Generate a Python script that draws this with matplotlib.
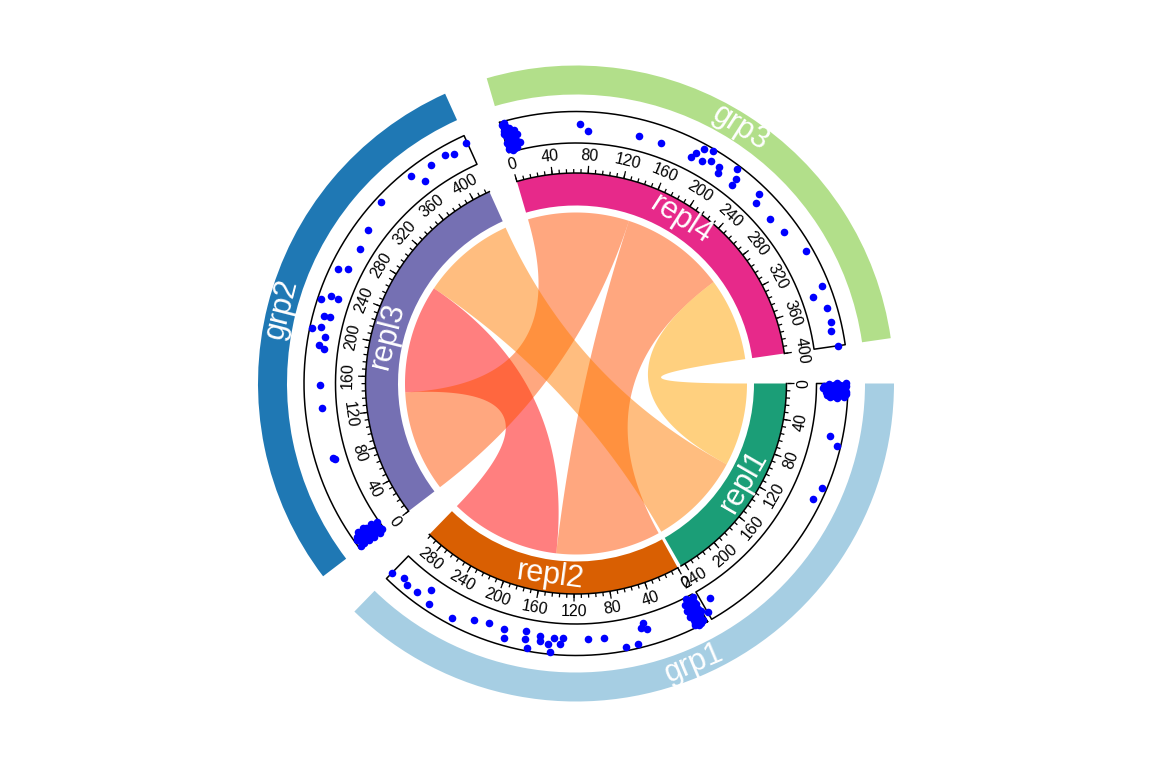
import numpy as np
import matplotlib.pyplot as plt

plt.rcParams['font.family'] = ['Liberation Sans', 'DejaVu Sans']

# ---- sectors / groups ----
sector_names = ['repl1', 'repl2', 'repl3', 'repl4']
sector_sizes = [245, 298, 420, 400]
sector_colors = ['#1B9E77', '#D95F02', '#7570B3', '#E7298A']
gaps_after = [1.0, 8.5, 8.0, 8.2]   # degrees after each sector

group_names = ['grp1', 'grp2', 'grp3']
group_sectors = [['repl1', 'repl2'], ['repl3'], ['repl4']]
group_colors = ['#A6CEE3', '#1F78B4', '#B2DF8A']

# ---- links ----
link_sec1 = ['repl3', 'repl3', 'repl4', 'repl3', 'repl4']
link_range1 = [(140, 290), (0, 140), (140, 285), (290, 420), (285, 400)]
link_sec2 = ['repl2', 'repl4', 'repl2', 'repl1', 'repl1']
link_range2 = [(145, 298), (0, 140), (0, 145), (115, 245), (0, 115)]
link_colors = ['#FF0000', '#FF5000', '#FF5000', '#FF7D00', '#FFA300']

# ---- scatter track (position, relative value 0..1) ----
repl1_pos = [0, 1, 2, 3, 4, 5, 6, 7, 8, 9, 10, 11, 12, 13, 2, 5, 8, 11, 1, 6,
             0.5, 3.5, 6.5, 9.5, 12.5, 2.5, 7.5, 10.5, 4.5, 0,
             48, 55, 94, 106, 237, 245]
repl1_val = [0.95, 0.55, 0.8, 0.35, 0.7, 0.9, 0.45, 0.6, 0.85, 0.4, 0.75, 0.55, 0.9, 0.65,
             0.25, 0.3, 0.3, 0.35, 0.75, 0.75,
             0.4, 0.5, 0.65, 0.95, 0.45, 0.95, 0.95, 0.8, 0.2, 0.65,
             0.6, 0.9, 0.85, 0.75, 0.4, 0.75]

repl2_pos = [1, 2, 3, 4, 5, 6, 7, 8, 9, 10, 11, 12, 2, 4, 6, 8, 10, 3, 7, 11,
             1.5, 3.5, 5.5, 7.5, 9.5, 11.5, 2.5, 6.5, 8.5, 4.5, 0.5, 10.5,
             298, 287, 281, 270, 261, 255, 231, 213, 199, 185, 182, 164, 164, 161,
             151, 150, 143, 138, 130, 132, 140, 107, 92, 74, 63, 54, 57, 52]
repl2_val = [0.1, 0.5, 0.9, 0.3, 0.7, 0.15, 0.55, 0.95, 0.35, 0.75, 0.2, 0.6, 0.25, 0.85,
             0.4, 0.05, 0.45, 0.65, 0.8, 0.9,
             0.35, 0.6, 0.95, 0.3, 0.55, 0.4, 0.7, 0.1, 0.75, 0.15, 0.6, 0.85,
             0.76, 0.62, 0.72, 0.69, 0.38, 0.79, 0.79, 0.54, 0.45, 0.48, 0.75, 0.39, 0.63, 0.9,
             0.45, 0.63, 0.67, 0.47, 0.44, 0.64, 0.94, 0.49, 0.49, 0.87, 0.88, 0.26, 0.41, 0.48]

repl3_pos = [0, 1, 2, 3, 4, 5, 6, 7, 8, 9, 10, 11, 12, 13, 1, 4, 7, 10, 3, 9,
             0.5, 2.5, 5.5, 8.5, 11.5, 1.5, 6.5, 3.5, 9.5, 12.5,
             419, 397, 405, 382, 362, 369, 327, 301, 282, 257, 261, 227, 232, 232,
             213, 214, 201, 203, 195, 187, 184, 151, 130, 81, 83]
repl3_val = [0.2, 0.6, 0.05, 0.45, 0.8, 0.3, 0.65, 0.15, 0.5, 0.85, 0.35, 0.7, 0.25, 0.55,
             0.9, 0.1, 0.9, 0.05, 0.7, 0.4,
             0.4, 0.35, 0.5, 0.7, 0.45, 0.8, 0.25, 0.2, 0.6, 0.75,
             0.76, 0.72, 0.63, 0.69, 0.78, 0.38, 0.81, 0.58, 0.43, 0.74, 0.47, 0.9, 0.63, 0.39,
             0.64, 0.46, 0.92, 0.65, 0.48, 0.63, 0.45, 0.48, 0.48, 0.39, 0.42]

repl4_pos = [1, 2, 3, 1.5, 4, 5, 2.5, 6, 7, 3.5, 8, 9, 5.5, 10, 11, 7.5, 12, 13, 9.5, 4.5,
             0.5, 2, 6.5, 8.5, 10.5, 1, 3, 5, 7, 9,
             70, 78, 125, 146, 176, 179, 183, 191, 187, 194, 203, 205, 217, 222, 222,
             246, 250, 269, 286, 311, 345, 352, 365, 378, 386, 400]
repl4_val = [0.9, 0.7, 0.5, 0.3, 0.85, 0.6, 0.15, 0.4, 0.75, 0.95, 0.2, 0.55, 0.35, 0.65,
             0.3, 0.1, 0.5, 0.25, 0.45, 0.05,
             0.6, 0.2, 0.6, 0.45, 0.25, 0.1, 0.8, 0.35, 0.25, 0.1,
             0.59, 0.39, 0.47, 0.48, 0.43, 0.61, 0.84, 0.92, 0.47, 0.63, 0.6, 0.44, 0.87, 0.6,
             0.37, 0.72, 0.46, 0.43, 0.53, 0.79, 0.76, 0.36, 0.68, 0.71, 0.62, 0.77]

track_pos = {'repl1': repl1_pos, 'repl2': repl2_pos, 'repl3': repl3_pos, 'repl4': repl4_pos}
track_val = {'repl1': repl1_val, 'repl2': repl2_val, 'repl3': repl3_val, 'repl4': repl4_val}

# radii in pixels
R_LINK = 171
R_RING = (178, 210.5)
R_TRACK = (240.5, 272)
R_GROUP = (289, 318)

deg_per_unit = (360 - sum(gaps_after)) / sum(sector_sizes)
start = {}
a = 0.0
for name, size, gap in zip(sector_names, sector_sizes, gaps_after):
    start[name] = a
    a += size * deg_per_unit + gap
size_of = dict(zip(sector_names, sector_sizes))


def theta(name, pos):
    return np.deg2rad(start[name] + np.asarray(pos, dtype=float) * deg_per_unit)


def text_rot(t):
    ang = (-np.rad2deg(t) + 180) % 360 - 180
    return ang - 90 if 0 < ang < 180 else ang + 90


fig = plt.figure(figsize=(11.52, 7.68), dpi=100)
RL = 340
ax = fig.add_axes([(576 - RL) / 1152, (384.5 - RL) / 768, 2 * RL / 1152, 2 * RL / 768],
                  projection='polar')
ax.set_theta_zero_location('E')
ax.set_theta_direction(-1)
ax.set_ylim(0, RL)
ax.set_axis_off()

# groups ring
for g, members, col in zip(group_names, group_sectors, group_colors):
    t0 = theta(members[0], 0)
    t1 = theta(members[-1], size_of[members[-1]])
    ax.bar((t0 + t1) / 2, R_GROUP[1] - R_GROUP[0], width=t1 - t0, bottom=R_GROUP[0],
           color=col, edgecolor='none')
    tm = (t0 + t1) / 2
    ax.text(tm, (R_GROUP[0] + R_GROUP[1]) / 2, g, color='white', fontsize=22,
            rotation=text_rot(tm), rotation_mode='anchor', ha='center', va='center')

# sectors ring, axis, track
for name, col in zip(sector_names, sector_colors):
    size = size_of[name]
    t0, t1 = theta(name, 0), theta(name, size)
    tm = (t0 + t1) / 2
    ax.bar(tm, R_RING[1] - R_RING[0], width=t1 - t0, bottom=R_RING[0],
           color=col, edgecolor='none')
    ax.text(tm, (R_RING[0] + R_RING[1]) / 2, name, color='white', fontsize=22,
            rotation=text_rot(tm), rotation_mode='anchor', ha='center', va='center')

    # axis line + ticks
    tt = np.linspace(t0, t1, 300)
    ax.plot(tt, np.full_like(tt, R_RING[1]), color='black', lw=1.1)
    minor = np.arange(0, size + 1, 8)
    major = np.arange(0, size + 1, 40)
    ax.vlines(theta(name, minor), R_RING[1], R_RING[1] + 4, color='black', lw=0.9)
    ax.vlines(theta(name, major), R_RING[1], R_RING[1] + 7.5, color='black', lw=0.9)
    for p in major:
        tp = theta(name, p)
        ax.text(tp, 228, str(p), fontsize=11.5, rotation=text_rot(tp),
                rotation_mode='anchor', ha='center', va='center')

    # track box
    th = np.concatenate([tt, tt[::-1], [t0]])
    rr = np.concatenate([np.full_like(tt, R_TRACK[1]), np.full_like(tt, R_TRACK[0]), [R_TRACK[1]]])
    ax.plot(th, rr, color='black', lw=1.1)

    # points
    vals = np.asarray(track_val[name])
    ax.scatter(theta(name, track_pos[name]), R_TRACK[0] + vals * (R_TRACK[1] - R_TRACK[0]),
               s=30, color='#0000FF', linewidths=0, zorder=3)

# links
for s1, r1, s2, r2, col in zip(link_sec1, link_range1, link_sec2, link_range2, link_colors):
    n = 120
    ta = np.linspace(theta(s1, r1[0]), theta(s1, r1[1]), n)
    tb = np.linspace(theta(s2, r2[0]), theta(s2, r2[1]), n)
    u = np.linspace(0, 1, n)

    def bez(tp, tq):
        p = R_LINK * np.array([np.cos(tp), np.sin(tp)])
        q = R_LINK * np.array([np.cos(tq), np.sin(tq)])
        return ((1 - u) ** 2)[:, None] * p + (u ** 2)[:, None] * q

    arc1 = np.column_stack([R_LINK * np.cos(ta), R_LINK * np.sin(ta)])
    arc2 = np.column_stack([R_LINK * np.cos(tb), R_LINK * np.sin(tb)])
    pts = np.vstack([arc1, bez(ta[-1], tb[0]), arc2, bez(tb[-1], ta[0])])
    th = np.unwrap(np.arctan2(pts[:, 1], pts[:, 0]))
    rr = np.hypot(pts[:, 0], pts[:, 1])
    ax.fill(th, rr, color=col, alpha=0.5, lw=0)

fig.savefig('out.png', dpi=100)
